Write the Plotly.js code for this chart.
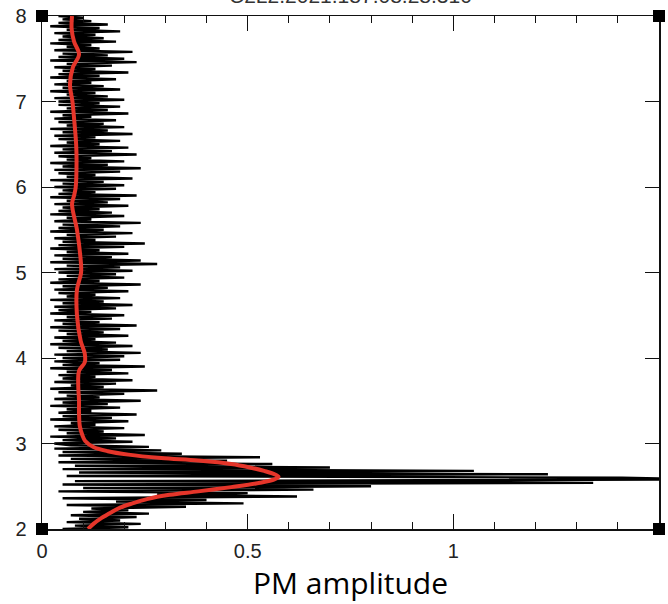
<!DOCTYPE html>
<html><head><meta charset="utf-8">
<script src="https://cdn.plot.ly/plotly-3.0.1.min.js"></script>
<style>html,body{margin:0;padding:0;background:#fff}#chart{width:668px;height:604px}</style>
</head><body><div id="chart"></div>
<script>
// ---- data ----
const chartTitle = 'C2L2.2021.187.08.28.310';
const xAxisTitle = 'PM amplitude';
const xTickVals = [0, 0.5, 1, 1.5];
const yTickVals = [2, 3, 4, 5, 6, 7, 8];

// frequency sampling of the noisy spectrum (start, step)
const freqStart = 2.0;
const freqStep = 0.02;

// amplitude of the raw spectrum, one array per unit of the vertical axis
const amp_2_3 = [0.05,0.21,0.08,0.24,0.06,0.19,0.09,0.23,0.07,0.26,
                 0.10,0.21,0.12,0.35,0.06,0.49,0.18,0.40,0.05,0.62,
                 0.28,0.50,0.04,0.66,0.10,0.80,0.05,1.34,0.08,1.62,
                 1.41,0.06,1.23,0.09,1.05,0.05,0.70,0.08,0.56,0.04,
                 0.45,0.07,0.53,0.04,0.34,0.05,0.29,0.03,0.26,0.07];
const amp_3_4 = [0.03,0.22,0.05,0.18,0.02,0.25,0.06,0.15,0.04,0.20,
                 0.03,0.13,0.07,0.21,0.02,0.17,0.05,0.23,0.04,0.12,
                 0.06,0.19,0.02,0.16,0.05,0.24,0.03,0.14,0.06,0.20,
                 0.04,0.28,0.02,0.15,0.07,0.18,0.03,0.22,0.05,0.13,
                 0.04,0.21,0.06,0.17,0.02,0.25,0.05,0.14,0.03,0.19];
const amp_4_5 = [0.05,0.20,0.03,0.24,0.06,0.16,0.04,0.22,0.02,0.18,
                 0.05,0.13,0.03,0.21,0.06,0.15,0.04,0.19,0.02,0.23,
                 0.05,0.14,0.03,0.17,0.06,0.20,0.02,0.12,0.04,0.18,
                 0.03,0.22,0.05,0.15,0.02,0.19,0.06,0.13,0.04,0.21,
                 0.03,0.16,0.05,0.24,0.02,0.14,0.04,0.20,0.06,0.18];
const amp_5_6 = [0.04,0.22,0.03,0.19,0.06,0.28,0.02,0.24,0.05,0.17,
                 0.03,0.21,0.06,0.14,0.02,0.20,0.04,0.25,0.05,0.13,
                 0.03,0.18,0.06,0.22,0.02,0.15,0.04,0.19,0.05,0.24,
                 0.03,0.12,0.06,0.20,0.02,0.17,0.04,0.14,0.05,0.21,
                 0.03,0.16,0.06,0.19,0.02,0.23,0.04,0.13,0.05,0.18];
const amp_6_7 = [0.03,0.20,0.05,0.15,0.02,0.22,0.06,0.13,0.04,0.19,
                 0.03,0.24,0.05,0.16,0.02,0.20,0.06,0.12,0.04,0.23,
                 0.03,0.17,0.05,0.21,0.02,0.14,0.06,0.19,0.04,0.13,
                 0.03,0.22,0.05,0.16,0.02,0.20,0.06,0.15,0.04,0.18,
                 0.03,0.12,0.05,0.21,0.02,0.16,0.06,0.19,0.04,0.14];
const amp_7_8 = [0.04,0.20,0.03,0.16,0.06,0.13,0.02,0.19,0.05,0.15,
                 0.03,0.12,0.06,0.18,0.02,0.14,0.04,0.21,0.05,0.13,
                 0.03,0.17,0.06,0.23,0.02,0.20,0.04,0.16,0.05,0.22,
                 0.03,0.14,0.06,0.12,0.02,0.18,0.04,0.15,0.05,0.13,
                 0.03,0.19,0.06,0.14,0.02,0.16,0.04,0.12,0.05,0.10,0.04];

// smoothed (red) curve: frequency and amplitude
const smoothFreq = [2.00,2.06,2.13,2.20,2.25,2.30,2.35,2.40,2.44,2.49,2.54,2.58,2.61,2.65,2.68,2.72,2.76,2.80,2.83,2.87,2.91,2.96,3.03,3.10,3.20,3.35,3.50,3.70,3.85,3.95,4.05,4.20,4.50,4.80,5.00,5.20,5.50,5.80,5.90,6.00,6.30,6.50,6.80,7.00,7.20,7.40,7.55,7.70,7.85,8.00];
const smoothAmp  = [0.112,0.125,0.145,0.170,0.190,0.220,0.255,0.310,0.380,0.460,0.530,0.565,0.575,0.560,0.540,0.505,0.460,0.380,0.290,0.210,0.160,0.125,0.105,0.098,0.092,0.090,0.090,0.088,0.090,0.104,0.104,0.094,0.085,0.085,0.095,0.093,0.085,0.073,0.078,0.082,0.084,0.083,0.078,0.074,0.068,0.075,0.090,0.078,0.072,0.073];

const amplitude = [].concat(amp_2_3, amp_3_4, amp_4_5, amp_5_6, amp_6_7, amp_7_8);

// ---- chart ----
const tickFont = {family: 'Liberation Sans, Arial, sans-serif', color: '#222'};

const traces = [
  {
    type: 'scatter', mode: 'lines',
    x: amplitude, y0: freqStart, dy: freqStep,
    line: {color: '#000', width: 2.4},
    hoverinfo: 'skip', showlegend: false
  },
  {
    type: 'scatter', mode: 'lines',
    x: smoothAmp, y: smoothFreq,
    line: {color: '#e5352a', width: 4, shape: 'spline', smoothing: 1},
    showlegend: false
  }
];

function corner(xa, ya) {
  return {type: 'rect', xref: 'x domain', yref: 'y domain',
          xsizemode: 'pixel', ysizemode: 'pixel', xanchor: xa, yanchor: ya,
          x0: -6, x1: 6, y0: -6, y1: 6,
          fillcolor: '#000', line: {width: 0}, layer: 'above'};
}

const layout = {
  width: 668, height: 604,
  margin: {l: 42, r: 9, t: 16, b: 75},
  paper_bgcolor: '#fff', plot_bgcolor: '#fff',
  showlegend: false,
  xaxis: {
    range: [0, 1.5], tickvals: xTickVals, ticktext: xTickVals.map(String),
    ticks: 'inside', ticklen: 15, tickwidth: 1, tickcolor: '#111',
    minor: {dtick: 0.1, ticks: 'inside', ticklen: 7, tickwidth: 1, tickcolor: '#111'},
    showline: true, linecolor: '#111', linewidth: 1.5, mirror: 'ticks',
    showgrid: false, zeroline: false,
    tickfont: Object.assign({size: 20}, tickFont),
    ticklabelstandoff: 3,
    title: {text: xAxisTitle, font: {family: 'Open Sans, Noto Sans, sans-serif', size: 30, color: '#000'}, standoff: 2}
  },
  yaxis: {
    range: [2, 8], tickvals: yTickVals, ticktext: yTickVals.map(String),
    ticks: 'inside', ticklen: 14, tickwidth: 1, tickcolor: '#111',
    showline: true, linecolor: '#111', linewidth: 1.5, mirror: 'ticks',
    showgrid: false, zeroline: false,
    tickfont: Object.assign({size: 20}, tickFont),
    ticklabelstandoff: 10
  },
  annotations: [{
    text: chartTitle, xref: 'paper', yref: 'paper', x: 0.5, y: 1,
    xanchor: 'center', yanchor: 'bottom', yshift: 7, showarrow: false,
    font: {family: 'Liberation Sans, Arial, sans-serif', size: 21, color: '#333'}
  }],
  shapes: [corner(0, 0), corner(1, 0), corner(0, 1), corner(1, 1)]
};

Plotly.newPlot('chart', traces, layout, {displayModeBar: false, staticPlot: true});
</script>
</body></html>
